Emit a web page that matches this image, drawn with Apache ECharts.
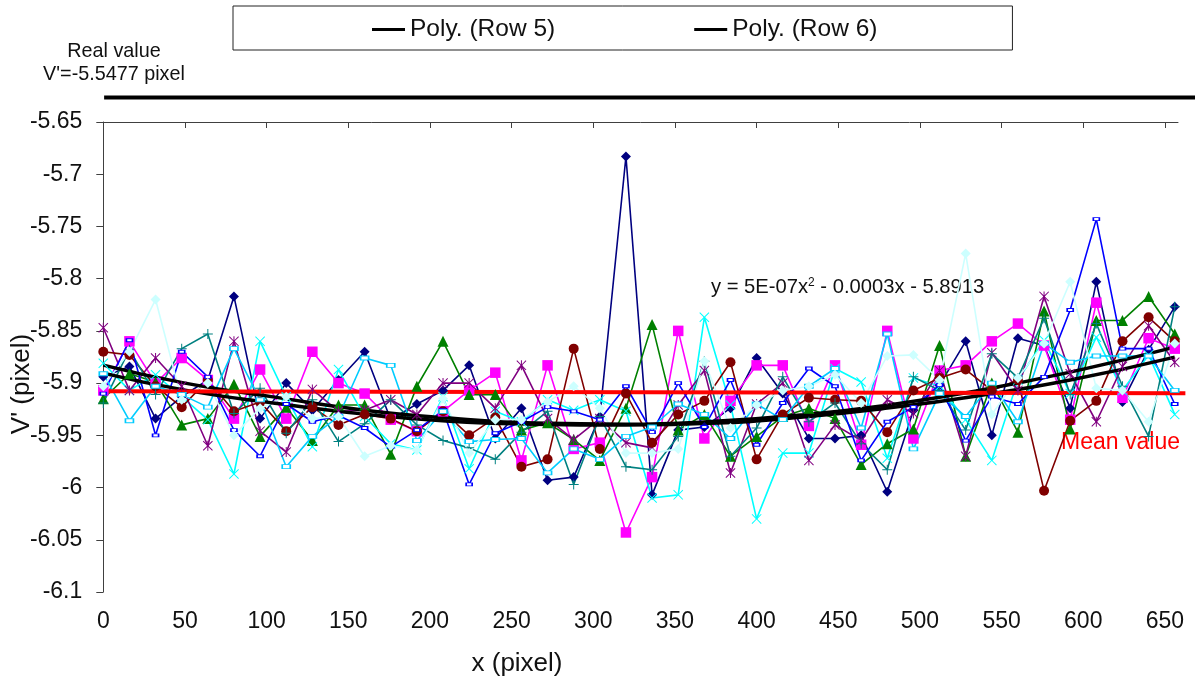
<!DOCTYPE html>
<html><head><meta charset="utf-8">
<style>html,body{margin:0;padding:0;background:#fff}#c{width:1195px;height:686px}</style>
<script src="https://cdn.jsdelivr.net/npm/echarts@6/dist/echarts.min.js"></script>
</head><body><div id="c"></div>
<script>
const xPixels = [0,16,32,48,64,80,96,112,128,144,160,176,192,208,224,240,256,272,288,304,320,336,352,368,384,400,416,432,448,464,480,496,512,528,544,560,576,592,608,624,640,656];
const navy = [-5.894,-5.884,-5.934,-5.913,-5.897,-5.817,-5.934,-5.900,-5.926,-5.897,-5.870,-5.935,-5.920,-5.907,-5.883,-5.953,-5.924,-5.993,-5.990,-5.932,-5.683,-6.007,-5.945,-5.942,-5.924,-5.876,-5.910,-5.953,-5.953,-5.950,-6.004,-5.926,-5.902,-5.860,-5.950,-5.857,-5.864,-5.924,-5.803,-5.918,-5.868,-5.827];
const magenta = [-5.907,-5.860,-5.900,-5.876,-5.897,-5.934,-5.887,-5.934,-5.870,-5.900,-5.910,-5.935,-5.946,-5.927,-5.907,-5.890,-5.974,-5.883,-5.963,-5.957,-6.043,-5.990,-5.850,-5.953,-5.917,-5.883,-5.883,-5.941,-5.883,-5.959,-5.850,-5.953,-5.888,-5.883,-5.860,-5.843,-5.864,-5.935,-5.823,-5.914,-5.857,-5.867];
const green = [-5.915,-5.891,-5.899,-5.940,-5.934,-5.901,-5.951,-5.923,-5.955,-5.921,-5.921,-5.968,-5.903,-5.860,-5.911,-5.911,-5.945,-5.938,-5.954,-5.974,-5.924,-5.844,-5.945,-5.930,-5.970,-5.951,-5.932,-5.924,-5.934,-5.978,-5.958,-5.944,-5.864,-5.970,-5.900,-5.947,-5.831,-5.944,-5.840,-5.840,-5.817,-5.853];
const cyan = [-5.881,-5.907,-5.892,-5.913,-5.935,-5.987,-5.860,-5.913,-5.961,-5.887,-5.932,-5.958,-5.964,-5.913,-5.982,-5.927,-5.937,-5.916,-5.926,-5.916,-5.927,-6.010,-6.007,-5.837,-5.921,-6.030,-5.967,-5.967,-5.886,-5.899,-5.972,-5.895,-5.903,-5.935,-5.974,-5.897,-5.859,-5.910,-5.856,-5.907,-5.873,-5.930];
const purple = [-5.847,-5.907,-5.876,-5.903,-5.960,-5.860,-5.946,-5.966,-5.906,-5.927,-5.926,-5.916,-5.930,-5.900,-5.900,-5.924,-5.883,-5.934,-5.954,-5.934,-5.957,-5.962,-5.921,-5.888,-5.986,-5.920,-5.900,-5.974,-5.940,-5.955,-5.916,-5.929,-5.888,-5.970,-5.871,-5.907,-5.817,-5.891,-5.937,-5.884,-5.845,-5.880];
const maroon = [-5.870,-5.873,-5.903,-5.923,-5.897,-5.927,-5.918,-5.946,-5.923,-5.940,-5.930,-5.934,-5.946,-5.927,-5.950,-5.933,-5.980,-5.973,-5.867,-5.963,-5.910,-5.957,-5.930,-5.917,-5.880,-5.973,-5.930,-5.914,-5.916,-5.917,-5.947,-5.907,-5.895,-5.887,-5.907,-5.897,-6.003,-5.936,-5.917,-5.860,-5.837,-5.860];
const teal = [-5.919,-5.868,-5.911,-5.867,-5.853,-5.929,-5.905,-5.948,-5.916,-5.956,-5.939,-5.916,-5.940,-5.955,-5.962,-5.973,-5.947,-5.927,-5.997,-5.932,-5.980,-5.983,-5.951,-5.879,-5.970,-5.943,-5.894,-5.937,-5.919,-5.958,-5.983,-5.894,-5.907,-5.945,-5.872,-5.895,-5.838,-5.911,-5.843,-5.903,-5.951,-5.827];
const blue = [-5.910,-5.859,-5.950,-5.870,-5.894,-5.945,-5.970,-5.920,-5.937,-5.931,-5.943,-5.961,-5.945,-5.926,-5.997,-5.948,-5.937,-5.923,-5.927,-5.935,-5.903,-5.947,-5.900,-5.942,-5.897,-5.959,-5.919,-5.886,-5.903,-5.974,-5.937,-5.923,-5.902,-5.955,-5.913,-5.920,-5.894,-5.830,-5.743,-5.867,-5.867,-5.920];
const sky = [-5.891,-5.936,-5.903,-5.911,-5.923,-5.867,-5.916,-5.980,-5.951,-5.932,-5.876,-5.883,-5.955,-5.927,-5.956,-5.954,-5.953,-5.986,-5.963,-5.973,-5.951,-5.942,-5.920,-5.930,-5.953,-5.920,-5.935,-5.903,-5.886,-5.943,-5.853,-5.963,-5.910,-5.932,-5.900,-5.937,-5.862,-5.880,-5.874,-5.874,-5.874,-5.907];
const pale = [-5.903,-5.870,-5.820,-5.916,-5.900,-5.950,-5.924,-5.913,-5.934,-5.932,-5.970,-5.960,-5.964,-5.915,-5.967,-5.935,-5.935,-5.918,-5.903,-5.924,-5.967,-5.967,-5.963,-5.879,-5.943,-5.921,-5.907,-5.903,-5.892,-5.919,-5.874,-5.873,-5.897,-5.776,-5.930,-5.895,-5.862,-5.803,-5.905,-5.907,-5.937,-5.862];
const trendX = [0,50,105,160,212,264,320,376,427,480,534,592,656];
const polyRow5 = [-5.8828,-5.9000,-5.9134,-5.9259,-5.9335,-5.9383,-5.9393,-5.9364,-5.9306,-5.9211,-5.9077,-5.8895,-5.8655];
const polyRow6 = [-5.8904,-5.9067,-5.9192,-5.9297,-5.9364,-5.9393,-5.9402,-5.9383,-5.9326,-5.9239,-5.9125,-5.8971,-5.8751];
const meanLine = [[3,-5.9077],[662.5,-5.9096]];
const realLine = [[0.5,-5.6265],[668.4,-5.6265]];
const xTicks = [0,50,100,150,200,250,300,350,400,450,500,550,600,650];

const FONT = '"Liberation Sans", Arial, sans-serif';
const PLUS = 'path://M4.5 0h1v4.5h4.5v1h-4.5v4.5h-1v-4.5h-4.5v-1h4.5z';
const CROSS = 'path://M0.7 0L5 4.3L9.3 0L10 0.7L5.7 5L10 9.3L9.3 10L5 5.7L0.7 10L0 9.3L4.3 5L0 0.7Z';
const STAR = 'path://M0.7 0L4.5 3.8V0h1v3.8L9.3 0L10 0.7L5.7 5L10 9.3L9.3 10L5.5 6.2V10h-1V6.2L0.7 10L0 9.3L4.3 5L0 0.7Z';

const pts = ys => ys.map((y,i)=>[xPixels[i],y]);
const mk = (name,data,color,symbol,size,hollow) => ({
  name,type:'line',data:pts(data),symbol,symbolSize:size,showSymbol:true,showAllSymbol:true,
  lineStyle:{color,width:1.6},
  itemStyle:hollow?{color:'#fff',borderColor:color,borderWidth:1.2}:{color,borderWidth:0},
  emphasis:{disabled:true},silent:true
});
const straight = (name,data,color,width,extra) => Object.assign({
  name,type:'line',data,symbol:'none',showSymbol:false,lineStyle:{color,width},itemStyle:{color},emphasis:{disabled:true},silent:true
},extra||{});

const option = {
  animation:false,
  backgroundColor:'#fff',
  textStyle:{fontFamily:FONT},
  grid:[
    {left:103.3,top:122,width:1074.7,height:470},
    {left:103.3,top:122,width:1091.7,height:470}
  ],
  legend:{
    data:[{name:'Poly. (Row 5)',icon:'rect'},{name:'Poly. (Row 6)',icon:'rect'}],
    left:233,top:6,orient:'horizontal',itemWidth:33,itemHeight:3,itemGap:139,
    padding:[11,135,8,139],borderColor:'#222',borderWidth:1,
    textStyle:{fontSize:24.5,color:'#111',fontFamily:FONT},selectedMode:false
  },
  xAxis:[
    {type:'value',gridIndex:0,position:'top',min:0,max:658,
     axisLine:{onZero:false,lineStyle:{color:'#404040',width:1}},
     axisTick:{inside:true,length:6,customValues:xTicks,lineStyle:{color:'#404040'}},
     axisLabel:{show:false},splitLine:{show:false}},
    {type:'value',gridIndex:0,position:'bottom',min:0,max:658,
     axisLine:{show:false},axisTick:{show:false},
     axisLabel:{customValues:xTicks,fontSize:23,color:'#111',margin:18,fontFamily:FONT},
     splitLine:{show:false}},
    {type:'value',gridIndex:1,min:0,max:668.4,show:false,splitLine:{show:false}}
  ],
  yAxis:[
    {type:'value',gridIndex:0,min:-6.1,max:-5.65,interval:0.05,
     axisLine:{show:true,onZero:false,lineStyle:{color:'#404040',width:1}},
     axisTick:{show:true,length:7,lineStyle:{color:'#404040'}},
     axisLabel:{fontSize:23,color:'#111',margin:21,padding:[5,0,0,0],fontFamily:FONT,formatter:v=>String(+v.toFixed(2))},
     splitLine:{show:false}},
    {type:'value',gridIndex:1,min:-6.1,max:-5.65,show:false,splitLine:{show:false}}
  ],
  series:[
    mk('Row 1',navy,'#000080','diamond',10),
    mk('Row 2',magenta,'#FF00FF','rect',10.5),
    mk('Row 3',green,'#008000','triangle',11),
    mk('Row 4',cyan,'#00FFFF',CROSS,10),
    mk('Row 7',purple,'#800080',STAR,10),
    mk('Row 8',maroon,'#800000','circle',10),
    mk('Row 9',teal,'#008080',PLUS,10),
    mk('Row 10',blue,'#0000FF','rect',[6,3],true),
    mk('Row 11',sky,'#00CCFF','rect',[8,4],true),
    mk('Row 12',pale,'#CCFFFF','diamond',10),
    straight('Poly. (Row 5)',trendX.map((x,i)=>[x,polyRow5[i]]),'#000',3.5,{smooth:true}),
    straight('Poly. (Row 6)',trendX.map((x,i)=>[x,polyRow6[i]]),'#000',3.5,{smooth:true}),
    straight('Mean',meanLine,'#FF0000',4,{xAxisIndex:2,yAxisIndex:1,clip:false}),
    straight('Real',realLine,'#000',4,{xAxisIndex:2,yAxisIndex:1,clip:false})
  ],
  graphic:[
    {type:'text',x:114,y:52,style:{text:'Real value',fontSize:19.8,fill:'#111',fontFamily:FONT,align:'center',verticalAlign:'middle'}},
    {type:'text',x:114,y:75,style:{text:"V'=-5.5477 pixel",fontSize:19.8,fill:'#111',fontFamily:FONT,align:'center',verticalAlign:'middle'}},
    {type:'text',x:1180,y:443,style:{text:'Mean value',fontSize:23,fill:'#FF0000',fontFamily:FONT,align:'right',verticalAlign:'middle'}},
    {type:'text',x:711,y:287,style:{text:'y = 5E-07x{s|2} - 0.0003x - 5.8913',fontSize:20.2,fill:'#111',fontFamily:FONT,align:'left',verticalAlign:'middle',
      rich:{s:{fontSize:12,verticalAlign:'top',fill:'#111',fontFamily:FONT,padding:[0,0,7,0]}}}},
    {type:'text',x:517,y:664,style:{text:'x (pixel)',fontSize:26,fill:'#111',fontFamily:FONT,align:'center',verticalAlign:'middle'}},
    {type:'text',x:22,y:384,rotation:Math.PI/2,style:{text:"V' (pixel)",fontSize:26,fill:'#111',fontFamily:FONT,align:'center',verticalAlign:'middle'}}
  ]
};
echarts.init(document.getElementById('c'),null,{renderer:'canvas'}).setOption(option);
</script></body></html>
